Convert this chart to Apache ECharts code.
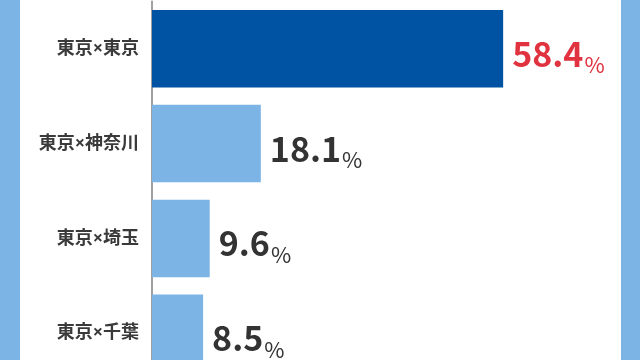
<!DOCTYPE html>
<html><head><meta charset="utf-8">
<script src="https://cdn.jsdelivr.net/npm/echarts@6/dist/echarts.min.js"></script>
<style>
html,body{margin:0;padding:0;width:640px;height:360px;overflow:hidden;background:#7db4e6;position:relative;}
#c{position:absolute;left:20px;top:0;width:601px;height:400px;background:#fff;}
</style></head><body>
<div id="c"></div>
<script>
const categories = ['東京×東京', '東京×神奈川', '東京×埼玉', '東京×千葉'];
const values = [58.4, 18.1, 9.6, 8.5];
const barColors = ['#0052a2', '#7db4e6', '#7db4e6', '#7db4e6'];
const labelColors = ['#e0323f', '#333333', '#333333', '#333333'];
const catLabelShift = [6.6, 16, 8, 18];

const chart = echarts.init(document.getElementById('c'), null, {renderer: 'canvas'});
chart.setOption({
  animation: false,
  grid: {left: 132, right: 0, top: 1.4, height: 379.2, containLabel: false},
  xAxis: {type: 'value', min: 0, max: 78, show: false},
  yAxis: {
    type: 'category', inverse: true,
    data: categories.map((c, i) => ({value: c, textStyle: {padding: [catLabelShift[i], 0, 0, 0]}})),
    axisLine: {show: true, lineStyle: {color: '#a0a0a0', width: 2}},
    axisTick: {show: false},
    axisLabel: {margin: 13, color: '#3a3a3a', fontSize: 18, fontWeight: 'bold',
      fontFamily: '"Noto Sans", "Noto Sans CJK JP", sans-serif'}
  },
  series: [{
    type: 'bar', barWidth: 77.5,
    data: values.map((v, i) => ({value: v, itemStyle: {color: barColors[i]},
      label: {rich: {
        v: {fontSize: 34, fontWeight: 'bold', color: labelColors[i], fontFamily: '"Noto Sans CJK JP", sans-serif', lineHeight: 44, verticalAlign: 'bottom'},
        p: {fontSize: 22, color: labelColors[i], fontFamily: '"Noto Sans CJK JP", sans-serif', lineHeight: 44, verticalAlign: 'bottom', padding: [0, 0, -5, 1]}
      }}})),
    label: {show: true, position: 'right', distance: 9,
      formatter: p => '{v|' + p.value + '}{p|%}'}
  }]
});
</script></body></html>
